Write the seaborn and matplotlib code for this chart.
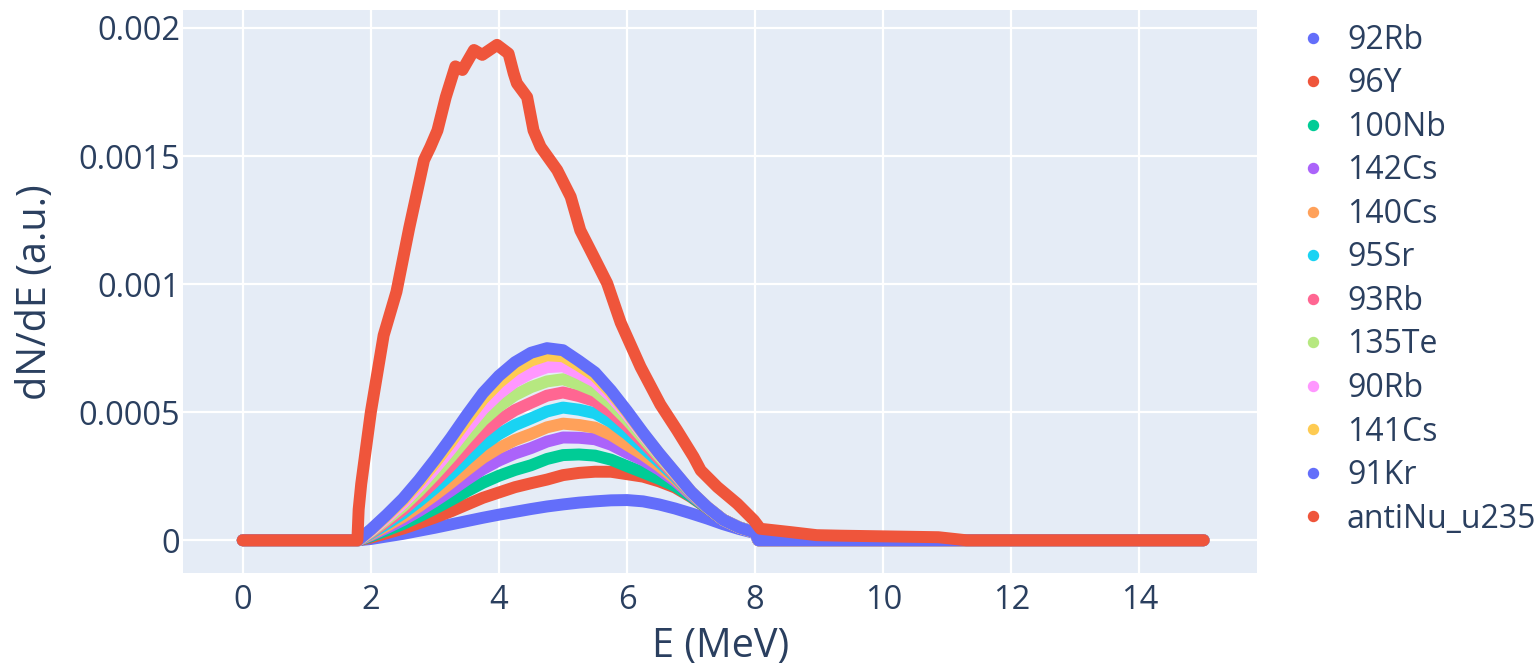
import matplotlib
matplotlib.use("Agg")
import matplotlib.pyplot as plt
from matplotlib.lines import Line2D
import seaborn as sns
import pandas as pd

# ---------------- data ----------------
# isotope curves: energies (MeV) and dN/dE values in units of 1e-5 (a.u.)
UNIT = 1e-5
E = [0, 1.8, 2.0, 2.25, 2.5, 2.75, 3.0, 3.25, 3.5, 3.75, 4.0, 4.25, 4.5, 4.75,
     5.0, 5.25, 5.5, 5.75, 6.0, 6.25, 6.5, 6.75, 7.0, 7.25, 7.5, 7.75, 8.0, 8.05, 15]

y_92Rb  = [0, 0, 0.5, 1.5, 2.5, 3.7, 4.9, 6.2, 7.5, 8.8, 10.0, 11.1, 12.2, 13.2,
           14.0, 14.7, 15.2, 15.6, 15.7, 15.2, 14.0, 12.4, 10.5, 8.5, 6.3, 4.4, 2.8, 0, 0]
y_96Y   = [0, 0, 1.06, 2.78, 4.56, 6.67, 8.89, 11.27, 13.93, 16.59, 18.67, 20.74, 22.27, 23.7,
           25.44, 26.31, 26.77, 26.75, 25.8, 24.85, 23.0, 20.6, 16.9, 12.55, 8.0, 5.0, 3.0, 0, 0]
y_100Nb = [0, 0, 1.54, 3.88, 6.34, 9.24, 12.35, 15.66, 19.12, 22.44, 25.18, 27.45, 29.28, 31.74,
           33.26, 33.5, 33.06, 31.47, 28.92, 26.46, 24.0, 21.14, 17.13, 12.64, 8.0, 5.0, 3.0, 0, 0]
y_142Cs = [0, 0, 1.94, 4.82, 7.84, 11.42, 15.27, 19.38, 23.69, 27.79, 31.14, 33.88, 35.99, 38.54,
           40.13, 40.03, 39.44, 37.31, 34.14, 31.28, 27.6, 23.12, 17.73, 12.78, 8.0, 5.0, 3.0, 0, 0]
y_140Cs = [0, 0, 2.28, 5.58, 9.08, 13.2, 17.67, 22.42, 27.42, 32.18, 36.02, 39.13, 41.48, 44.1,
           45.54, 45.0, 43.97, 41.17, 37.28, 33.42, 29.0, 23.96, 18.15, 12.82, 8.0, 5.0, 3.0, 0, 0]
y_95Sr  = [0, 0, 2.65, 6.43, 10.45, 15.18, 20.33, 25.8, 31.57, 37.05, 41.44, 44.97, 47.58, 50.28,
           51.81, 50.98, 49.61, 46.14, 41.45, 36.1, 30.6, 24.81, 18.41, 12.87, 8.0, 5.0, 3.0, 0, 0]
y_93Rb  = [0, 0, 3.02, 7.28, 11.82, 17.16, 22.99, 29.18, 35.72, 41.92, 46.86, 50.81, 53.68, 56.46,
           57.71, 56.29, 54.33, 50.09, 44.58, 38.25, 31.8, 25.37, 18.58, 12.91, 8.0, 5.0, 3.0, 0, 0]
y_135Te = [0, 0, 3.39, 8.13, 13.19, 19.14, 25.65, 32.56, 39.87, 46.79, 52.28, 56.65, 59.78, 62.02,
           62.88, 60.82, 58.26, 53.27, 47.02, 39.86, 32.8, 25.94, 18.75, 12.96, 8.0, 5.0, 3.0, 0, 0]
y_90Rb  = [0, 0, 3.72, 8.9, 14.42, 20.93, 28.04, 35.61, 43.61, 51.17, 57.15, 61.91, 65.27, 67.58,
           67.94, 65.13, 61.88, 56.1, 49.11, 41.2, 33.6, 26.22, 18.92, 13.0, 8.0, 5.0, 3.0, 0, 0]
y_141Cs = [0, 0, 4.02, 9.58, 15.52, 22.51, 30.17, 38.31, 46.93, 55.07, 61.49, 66.58, 70.15, 72.22,
           71.85, 68.18, 64.14, 57.6, 49.98, 41.73, 33.8, 26.36, 19.0, 13.0, 8.0, 5.0, 3.0, 0, 0]
y_91Kr  = [0, 0, 4.2, 10.0, 16.2, 23.5, 31.5, 40.0, 49.0, 57.5, 64.2, 69.5, 73.2, 75.0,
           74.2, 70.0, 65.5, 58.5, 50.5, 42.0, 34.0, 26.5, 19.0, 13.0, 8.0, 5.0, 3.0, 0, 0]

# total antineutrino spectrum (same units)
E_total = [0, 1.79, 1.81, 1.85, 2.0, 2.2, 2.4, 2.6, 2.83, 2.93, 3.04, 3.17, 3.32, 3.43, 3.61, 3.74,
           3.97, 4.15, 4.23, 4.28, 4.44, 4.54, 4.65, 4.91, 5.12, 5.27, 5.48, 5.69, 5.9, 6.21,
           6.52, 6.78, 7.04, 7.15, 7.41, 7.72, 7.98, 8.08, 8.55, 8.96, 9.33, 10.86, 11.3, 15]
y_total = [0, 0, 12.0, 22.0, 50.0, 80.0, 97.0, 122.0, 148.4, 153.6, 160.0, 173.0,
           185.0, 183.6, 191.4, 189.5, 193.4, 190.0, 182.3, 178.4, 173.0,
           160.0, 153.6, 144.5, 134.1, 121.0, 110.7, 100.3, 85.0, 67.7,
           53.0, 43.0, 32.5, 27.3, 20.8, 14.3, 7.8, 4.5, 3.2, 2.0,
           1.8, 1.2, 0, 0]

series_names = ["92Rb", "96Y", "100Nb", "142Cs", "140Cs", "95Sr", "93Rb", "135Te",
                "90Rb", "141Cs", "91Kr", "antiNu_u235"]
series_x = [E] * 11 + [E_total]
series_y = [y_92Rb, y_96Y, y_100Nb, y_142Cs, y_140Cs, y_95Sr, y_93Rb, y_135Te,
            y_90Rb, y_141Cs, y_91Kr, y_total]

colors = ["#636EFA", "#EF553B", "#00CC96", "#AB63FA", "#FFA15A", "#19D3F3",
          "#FF6692", "#B6E880", "#FF97FF", "#FECB52", "#636EFA", "#EF553B"]

x_ticks = [0, 2, 4, 6, 8, 10, 12, 14]
y_ticks = [0, 0.0005, 0.001, 0.0015, 0.002]
y_tick_labels = ["0", "0.0005", "0.001", "0.0015", "0.002"]

# ---------------- plot ----------------
sns.set_theme(style="darkgrid")
plt.rcParams["font.family"] = ["Open Sans", "DejaVu Sans"]
text_color = "#2a3f5f"

fig = plt.figure(figsize=(15.39, 6.69), dpi=100)
ax = fig.add_axes([0.119, 0.143, 0.698, 0.842])
ax.set_facecolor("#E5ECF6")

for name, xs, ys, c in zip(series_names, series_x, series_y, colors):
    df = pd.DataFrame({"E": xs, "dNdE": [v * UNIT for v in ys]})
    sns.lineplot(data=df, x="E", y="dNdE", color=c, linewidth=8.6, ax=ax,
                 estimator=None, sort=False, legend=False,
                 solid_capstyle="round", solid_joinstyle="round")

ax.set_xlim(-0.93, 15.84)
ax.set_ylim(-1.29e-4, 2.07e-3)
ax.set_xticks(x_ticks)
ax.set_xticklabels([str(t) for t in x_ticks])
ax.set_yticks(y_ticks)
ax.set_yticklabels(y_tick_labels)
ax.grid(True, color="white", linewidth=1.6)
ax.set_axisbelow(True)
for s in ax.spines.values():
    s.set_visible(False)
ax.tick_params(axis="both", length=0, labelsize=23.5, labelcolor=text_color)
ax.tick_params(axis="x", pad=7.5)
ax.tick_params(axis="y", pad=2)
ax.set_xlabel("")
ax.set_ylabel("")

fig.text(0.468, 0.033, "E (MeV)", fontsize=28.5, color=text_color,
         ha="center", va="center")
fig.text(0.0235, 0.5635, "dN/dE (a.u.)", fontsize=28.5, color=text_color,
         ha="center", va="center", rotation=90)

handles = [Line2D([0], [0], marker="o", linestyle="none", markersize=7.2,
                  markerfacecolor=c, markeredgecolor=c) for c in colors]
leg = fig.legend(handles, series_names, loc="upper left", bbox_to_anchor=(0.8345, 0.9837),
                 frameon=False, fontsize=23, labelspacing=0.33, handletextpad=0.56,
                 borderaxespad=0, borderpad=0.4, handlelength=1.0)
for t in leg.get_texts():
    t.set_color(text_color)

fig.savefig("out.png", dpi=100, facecolor="white")
